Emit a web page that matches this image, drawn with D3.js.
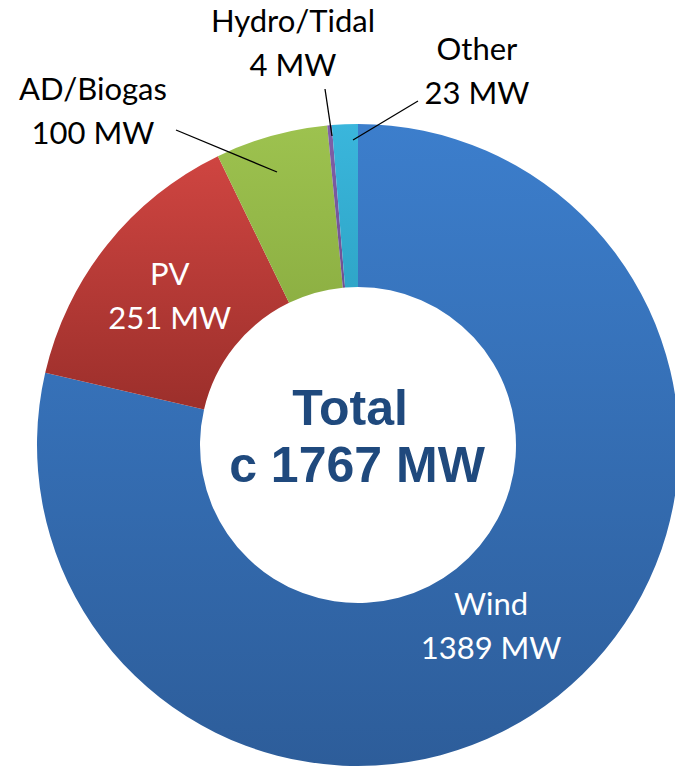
<!DOCTYPE html>
<html>
<head>
<meta charset="utf-8">
<script src="https://cdn.jsdelivr.net/npm/d3@7"></script>
<style>
  html, body { margin: 0; padding: 0; background: #fff; overflow: hidden; }
  svg { display: block; }
</style>
</head>
<body>
<svg id="chart" width="675" height="767"></svg>
<script>
// ---- Data ----
const categories = ["Wind", "PV", "AD/Biogas", "Hydro/Tidal", "Other"];
const values = [1389, 251, 100, 4, 23];
const valueLabels = ["1389 MW", "251 MW", "100 MW", "4 MW", "23 MW"];
const totalLines = ["Total", "c 1767 MW"];

// ---- Styles / layout ----
const colorsTop = ["#3c7ecc", "#cf4541", "#9dc24f", "#8060a8", "#3ab6dc"];
const colorsBot = ["#2d5d9a", "#9c2f2b", "#8db043", "#6f5092", "#2fa6c8"];
const W = 675, H = 767;
const cx = 358, cy = 445, rOuter = 321, rInner = 158;

const labelLayout = [
  { inside: true, dx: -16, dy: -6 },
  { inside: true, dx: -1, dy: 0 },
  { inside: false, x: 93, y: 100, line: [[176, 130], [277, 172]] },
  { inside: false, x: 293, y: 32, line: [[325, 89], [332, 136]] },
  { inside: false, x: 477, y: 60, line: [[418, 101], [353, 140]] }
];

const svg = d3.select("#chart");
const defs = svg.append("defs");

categories.forEach((c, i) => {
  const g = defs.append("linearGradient")
    .attr("id", "grad" + i)
    .attr("x1", 0).attr("x2", 0)
    .attr("y1", 0).attr("y2", 1);
  g.append("stop").attr("offset", "0%").attr("stop-color", colorsTop[i]);
  g.append("stop").attr("offset", "100%").attr("stop-color", colorsBot[i]);
});

const pie = d3.pie().sort(null).value(d => d.value);
const data = categories.map((c, i) => ({ name: c, value: values[i], label: valueLabels[i], i }));
const arcs = pie(data);
const arc = d3.arc().innerRadius(rInner).outerRadius(rOuter);

const g = svg.append("g").attr("transform", `translate(${cx},${cy})`);
g.selectAll("path.slice")
  .data(arcs)
  .join("path")
  .attr("class", "slice")
  .attr("d", arc)
  .attr("fill", d => `url(#grad${d.data.i})`);

arcs.forEach(d => {
  const L = labelLayout[d.data.i];
  if (!L.inside) {
    svg.append("line")
      .attr("x1", L.line[0][0]).attr("y1", L.line[0][1])
      .attr("x2", L.line[1][0]).attr("y2", L.line[1][1])
      .attr("stroke", "#000").attr("stroke-width", 1.3);
  }
});

const fontFam = "Lato, 'Open Sans', sans-serif";
arcs.forEach(d => {
  const L = labelLayout[d.data.i];
  let x, y, fill;
  if (L.inside) {
    const c = arc.centroid(d);
    x = cx + c[0] + L.dx;
    y = cy + c[1] + L.dy - 11;
    fill = "#fff";
  } else {
    x = L.x; y = L.y; fill = "#000";
  }
  const t = svg.append("text")
    .attr("text-anchor", "middle")
    .attr("font-family", fontFam)
    .attr("font-size", 31)
    .attr("fill", fill);
  t.append("tspan").attr("x", x).attr("y", y).text(d.data.name);
  t.append("tspan").attr("x", x).attr("y", y + 44).text(d.data.label);
});

const tt = svg.append("text")
  .attr("text-anchor", "middle")
  .attr("font-family", "'Liberation Sans', Arial, sans-serif")
  .attr("font-weight", "bold")
  .attr("font-size", 50)
  .attr("fill", "#1f497d");
tt.append("tspan").attr("x", cx - 8).attr("y", 425).text(totalLines[0]);
tt.append("tspan").attr("x", cx - 1).attr("y", 482).text(totalLines[1]);
</script>
</body>
</html>
